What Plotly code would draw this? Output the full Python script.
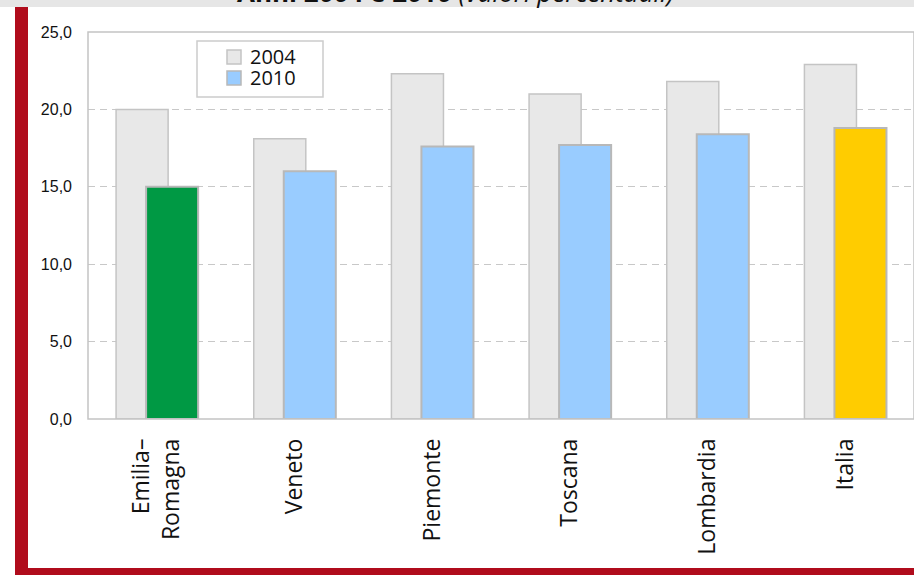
import plotly.graph_objects as go

# Data
regions = ["Emilia–<br>Romagna", "Veneto", "Piemonte", "Toscana", "Lombardia", "Italia"]
values_2004 = [20.0, 18.1, 22.3, 21.0, 21.8, 22.9]
values_2010 = [15.0, 16.0, 17.6, 17.7, 18.4, 18.8]
colors_2010 = ["#009944", "#99ccff", "#99ccff", "#99ccff", "#99ccff", "#ffcc00"]
y_ticks = [0, 5, 10, 15, 20, 25]
y_tick_text = ["0,0", "5,0", "10,0", "15,0", "20,0", "25,0"]
title_bold = "Anni 2004 e 2010"
title_italic = "(valori percentuali)"

W, H = 914, 575
ML, MR, MT, MB = 88, 0, 32, 156
PW, PH = W - ML - MR, H - MT - MB


def fx(px):
    return (px - ML) / PW


def fy(py):
    return (H - MB - py) / PH


xs = list(range(len(regions)))

fig = go.Figure()
fig.add_trace(go.Bar(
    x=xs, y=values_2004, name="2004",
    width=0.378, offset=-0.296,
    marker=dict(color="#e8e8e8", line=dict(color="#c4c4c4", width=1.5)),
    showlegend=False,
))
fig.add_trace(go.Bar(
    x=xs, y=values_2010, name="2010",
    width=0.378, offset=-0.078,
    marker=dict(color=colors_2010, line=dict(color="#b8b8b8", width=2)),
    showlegend=False,
))

shapes = []
# frame around plot area
shapes.append(dict(type="rect", xref="paper", yref="paper", x0=0, x1=1, y0=0, y1=1,
                   line=dict(color="#c4c4c4", width=1.5), layer="above"))
# grey band at the top
shapes.append(dict(type="rect", xref="paper", yref="paper", x0=fx(0), x1=fx(W),
                   y0=fy(7), y1=fy(0), fillcolor="#e6e6e6", line=dict(width=0), layer="below"))
# red border (left and bottom)
red = "#b00c1c"
shapes.append(dict(type="rect", xref="paper", yref="paper", x0=fx(15), x1=fx(28),
                   y0=fy(H), y1=fy(7), fillcolor=red, line=dict(width=0)))
shapes.append(dict(type="rect", xref="paper", yref="paper", x0=fx(15), x1=fx(W),
                   y0=fy(H), y1=fy(568), fillcolor=red, line=dict(width=0)))
# legend box and swatches
shapes.append(dict(type="rect", xref="paper", yref="paper", x0=fx(197), x1=fx(323),
                   y0=fy(97), y1=fy(41), fillcolor="white", line=dict(color="#cccccc", width=1.5)))
shapes.append(dict(type="rect", xref="paper", yref="paper", x0=fx(227), x1=fx(241),
                   y0=fy(64), y1=fy(50), fillcolor="#e8e8e8", line=dict(color="#c4c4c4", width=1.5)))
shapes.append(dict(type="rect", xref="paper", yref="paper", x0=fx(227), x1=fx(241),
                   y0=fy(85), y1=fy(71), fillcolor="#99ccff", line=dict(color="#b8b8b8", width=1.5)))

legend_font = dict(family="Open Sans", size=20, color="#111111")
annotations = [
    dict(xref="paper", yref="paper", x=fx(248), y=fy(57), xanchor="left", yanchor="middle",
         text="2004", showarrow=False, font=legend_font),
    dict(xref="paper", yref="paper", x=fx(248), y=fy(78), xanchor="left", yanchor="middle",
         text="2010", showarrow=False, font=legend_font),
    dict(xref="paper", yref="paper", x=fx(455), y=fy(12.5), xanchor="center", yanchor="bottom",
         text=f"<b>{title_bold}</b> <i>{title_italic}</i>", showarrow=False,
         font=dict(family="Open Sans", size=26, color="#111111")),
]

fig.update_layout(
    width=W, height=H,
    margin=dict(l=ML, r=MR, t=MT, b=MB, pad=0),
    paper_bgcolor="white", plot_bgcolor="white",
    barmode="overlay",
    shapes=shapes,
    annotations=annotations,
    xaxis=dict(
        range=[-0.5, len(regions) - 0.5],
        tickmode="array", tickvals=xs, ticktext=regions,
        tickangle=-90, showgrid=False, zeroline=False,
        showline=False, ticks="", ticklabelstandoff=14,
        tickfont=dict(family="Open Sans", size=23, color="#111111"),
    ),
    yaxis=dict(
        range=[0, 25], tickmode="array", tickvals=y_ticks, ticktext=y_tick_text,
        showgrid=True, gridcolor="#c8c8c8", gridwidth=1, griddash="7px,5px",
        zeroline=False, showline=False, ticks="", ticklabelstandoff=15,
        tickfont=dict(family="Liberation Sans", size=16, color="#111111"),
    ),
)

fig.write_html("out.html")
